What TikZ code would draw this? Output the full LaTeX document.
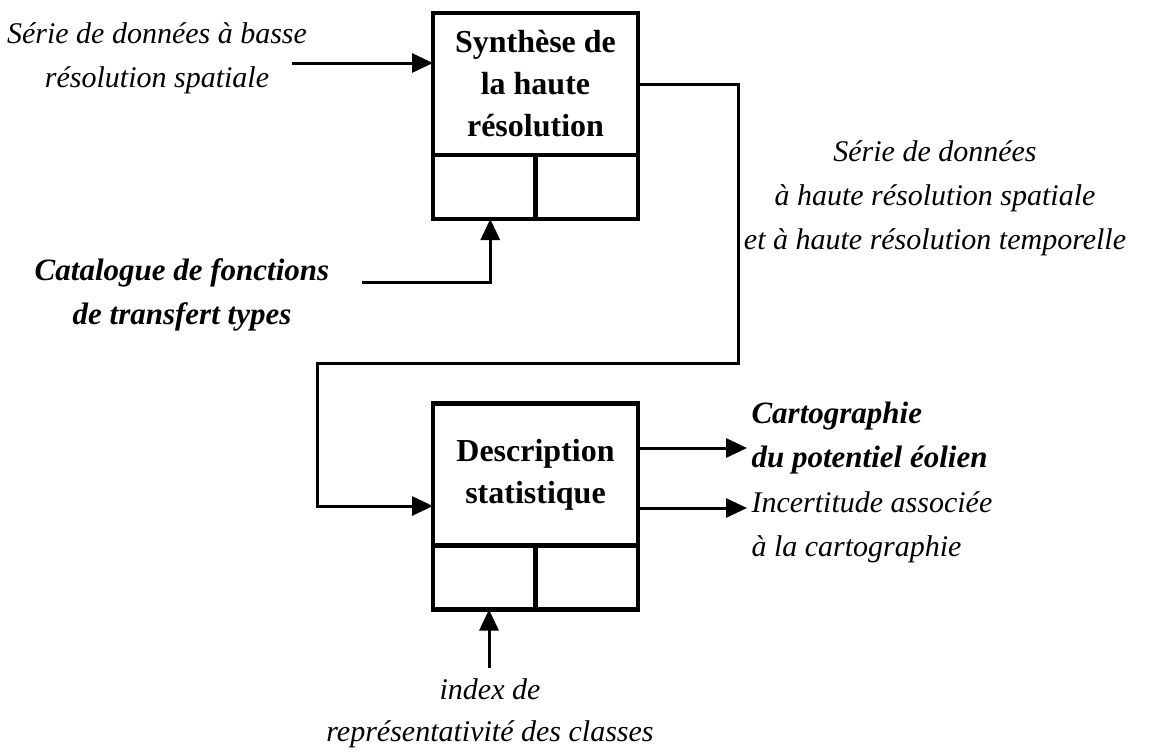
\documentclass[tikz,border=0pt]{standalone}
\usepackage{fontspec}
\setmainfont{Liberation Serif}
\usetikzlibrary{arrows.meta}
\begin{document}
\begin{tikzpicture}[
	x=1pt, y=-1pt,
	box/.style={
		rectangle,
		draw=black,
		line width=4.5pt,
		align=center,
		outer sep=0pt,
		font=\fontsize{32}{42}\selectfont\bfseries,
		minimum height=142pt,
		minimum width=205pt
	},
	cell/.style={
		rectangle,
		draw=black,
		line width=4.5pt,
		outer sep=0pt,
		minimum height=64pt,
		minimum width=102.5pt
	},
	label/.style={
		align=center,
		font=\fontsize{30}{44}\selectfont\itshape
	},
	strong/.style={
		align=center,
		font=\fontsize{31}{44}\selectfont\bfseries\itshape
	},
	link/.style={
		line width=3pt,
		-{Triangle[length=21pt,width=19pt]}
	}
]
\useasboundingbox (0,0) rectangle (1158,753);

\node[box] (synth) at (535.5,84) {Synthèse de\\la haute\\résolution};
\node[cell, anchor=north west] (synth_left) at (synth.south west) {};
\node[cell, anchor=north east] (synth_right) at (synth.south east) {};

\node[box] (desc) at (535.5,474.5) {Description\\statistique};
\node[cell, anchor=north west] (desc_left) at (desc.south west) {};
\node[cell, anchor=north east] (desc_right) at (desc.south east) {};

\node[label] (low_res) at (157,58) {Série de données à basse\\résolution spatiale};
\node[strong] (catalog) at (182,295) {Catalogue de fonctions\\de transfert types};
\node[label] (high_res) at (935,198) {Série de données\\à haute résolution spatiale\\et à haute résolution temporelle};
\node[strong, anchor=west, align=left] (carto) at (748,438) {Cartographie\\du potentiel éolien};
\node[label, anchor=west, align=left] (incert) at (748,527) {Incertitude associée\\à la cartographie};
\node[label, font=\fontsize{30}{42}\selectfont\itshape] (index) at (490,713) {index de\\représentativité des classes};

\coordinate (low_res_end) at (292,63);
\coordinate (catalog_end) at (362,282);
\coordinate (loop_end) at (317,506);
\coordinate (carto_in) at (747,448);
\coordinate (incert_in) at (747,508);
\coordinate (index_out) at (489,668);

\draw[link] (low_res_end) -- (synth.west |- low_res_end);
\draw[link] (catalog_end) -| ([xshift=6pt]synth_left.south);
\draw[link] (synth.east) -| (738,363) -| (loop_end) -- (desc.west |- loop_end);

\draw[link] (desc.east |- carto_in) -- (carto_in);
\draw[link] (desc.east |- incert_in) -- (incert_in);
\draw[link] (index_out) -- (index_out |- desc_left.south);

\end{tikzpicture}
\end{document}
